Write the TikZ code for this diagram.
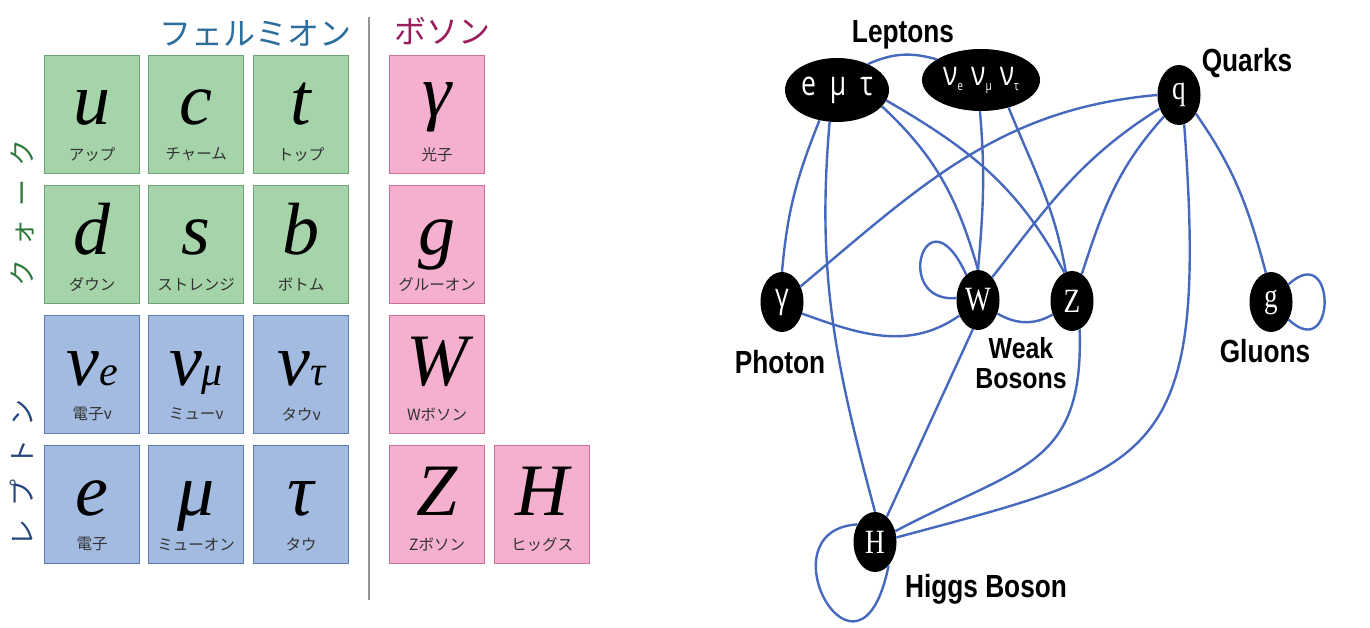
\documentclass[tikz,border=0pt]{standalone}
\usepackage{fontspec}
\setmainfont{Liberation Serif}
\newfontfamily\jpfont{Noto Sans CJK JP}
\newfontfamily\lblfont[FakeStretch=0.82]{Liberation Sans}
\newfontfamily\wbfont[FakeStretch=0.86]{Liberation Sans}
\newfontfamily\gsans[FakeStretch=0.78]{Open Sans}
\newfontfamily\gserif[FakeStretch=0.8]{Liberation Serif}
\usetikzlibrary{shapes.geometric}
\definecolor{gfill}{HTML}{A6D4AA}
\definecolor{gline}{HTML}{6FA274}
\definecolor{bfill}{HTML}{A3BBE1}
\definecolor{bline}{HTML}{5F7FB0}
\definecolor{pfill}{HTML}{F4B0CE}
\definecolor{pline}{HTML}{C87098}
\definecolor{ecol}{HTML}{4669BE}
\definecolor{fermc}{HTML}{2C6E9C}
\definecolor{bosc}{HTML}{9A1E5C}
\definecolor{quarkc}{HTML}{2E7A3A}
\definecolor{leptc}{HTML}{24487E}
\definecolor{smallc}{HTML}{333333}
\tikzset{
 cellbox/.style={draw, line width=1.2pt, minimum width=95pt, minimum height=118pt, inner sep=0pt, anchor=north west},
 qcell/.style={cellbox, fill=gfill, draw=gline},
 lcell/.style={cellbox, fill=bfill, draw=bline},
 bcell/.style={cellbox, fill=pfill, draw=pline},
 bigsym/.style={inner sep=0pt, anchor=base, font=\fontsize{74}{74}\selectfont\itshape},
 smalllbl/.style={inner sep=0pt, text=smallc, font=\jpfont\fontsize{15.5}{15.5}\selectfont},
 head/.style={inner sep=0pt, font=\jpfont\fontsize{32}{32}\selectfont},
 vhead/.style={inner sep=0pt, rotate=90, font=\jpfont\fontsize{27}{27}\selectfont},
 gnode/.style={fill=black, text=white, draw=none, inner sep=0pt, ellipse, minimum width=43pt, minimum height=60pt},
 glbl/.style={inner sep=0pt, anchor=base, font=\lblfont\bfseries\fontsize{32}{32}\selectfont},
 edge/.style={draw=ecol, line width=2.4pt},
}
\newcommand{\pcell}[6]{%
  \node[#4] (#1) at (#2,#3) {};
  \node[bigsym] (#1s) at ([yshift=-70pt]#1.north) {#5};
  \node[smalllbl] (#1n) at ([yshift=20pt]#1.south) {#6};}
\newcommand{\subn}[1]{{\fontsize{42}{42}\selectfont #1}}
\newcommand{\gsub}[1]{\raisebox{-5pt}{\fontsize{13}{13}\selectfont #1}}
\begin{document}
\begin{tikzpicture}[x=1pt,y=1pt]
\useasboundingbox (0,0) rectangle (1370,-628);
% ---------- left chart ----------
\node[head, text=fermc] (hf) at (255,-33) {フェルミオン};
\node[head, text=bosc] (hb) at (442,-31) {ボソン};
\node[vhead, text=quarkc] (vq) at (22,-213) {ク\hspace{13pt}ォ\hspace{13pt}ー\hspace{13pt}ク};
\node[vhead, text=leptc] (vl) at (22,-473) {レ\hspace{13pt}プ\hspace{13pt}ト\hspace{13pt}ン};
\coordinate (st) at (369,-17);
\coordinate (sb) at (369,-600);
\draw[line width=1.3pt, draw=gray!85] (st) -- (sb);

\pcell{cu}{44}{-55}{qcell}{u}{アップ}
\pcell{cc}{148}{-55}{qcell}{c}{チャーム}
\pcell{ct}{253}{-55}{qcell}{t}{トップ}
\pcell{cd}{44}{-185}{qcell}{d}{ダウン}
\pcell{cs}{148}{-185}{qcell}{s}{ストレンジ}
\pcell{cb}{253}{-185}{qcell}{b}{ボトム}
\pcell{cne}{44}{-315}{lcell}{ν\subn{e}}{電子ν}
\pcell{cnm}{148}{-315}{lcell}{ν\subn{μ}}{ミューν}
\pcell{cnt}{253}{-315}{lcell}{ν\subn{τ}}{タウν}
\pcell{ce}{44}{-445}{lcell}{e}{電子}
\pcell{cmu}{148}{-445}{lcell}{μ}{ミューオン}
\pcell{ctau}{253}{-445}{lcell}{τ}{タウ}
\pcell{cga}{389}{-55}{bcell}{\raisebox{8pt}{γ}}{光子}
\pcell{cg}{389}{-185}{bcell}{g}{グルーオン}
\pcell{cW}{389}{-315}{bcell}{W}{Wボソン}
\pcell{cZ}{389}{-445}{bcell}{Z}{Zボソン}
\pcell{cH}{494}{-445}{bcell}{H}{ヒッグス}

% ---------- graph ----------
\node[gnode, minimum width=104pt, minimum height=64pt, font=\gsans\fontsize{34}{34}\selectfont] (lep) at (837,-90) {\raisebox{3pt}{e\hspace{14pt}μ\hspace{14pt}τ}};
\node[gnode, minimum width=118pt, minimum height=62pt, font=\gsans\fontsize{34}{34}\selectfont] (neu) at (981,-80) {ν\gsub{e}\hspace{8pt}ν\gsub{μ}\hspace{8pt}ν\gsub{τ}};
\node[gnode, font=\gserif\fontsize{34}{34}\selectfont] (q) at (1179,-95) {q};
\node[gnode, font=\gsans\fontsize{34}{34}\selectfont] (ga) at (782,-302) {γ};
\node[gnode, font=\gserif\fontsize{34}{34}\selectfont] (W) at (978,-300) {W};
\node[gnode, font=\gserif\fontsize{34}{34}\selectfont] (Z) at (1072,-301) {Z};
\node[gnode, font=\gserif\fontsize{34}{34}\selectfont] (g) at (1271,-302) {g};
\node[gnode, font=\gserif\fontsize{34}{34}\selectfont] (H) at (875,-542) {H};

\draw[edge] (lep.40) to[bend left=20] (neu.155);
\draw[edge] (lep.-120) to[out=-112,in=85] (ga.north);
\draw[edge] (lep.-103) to[out=-95,in=105] (H.north);
\draw[edge] (lep.-20) to[out=-43,in=106] (W.north);
\draw[edge] (lep.-12) to[out=-30,in=118] (Z.105);
\draw[edge] (neu.-92) to[out=-85,in=85] (W.north);
\draw[edge] (neu.-45) to[out=-68,in=100] (Z.102);
\draw[edge] (q.180) to[out=185,in=40] (ga.40);
\draw[edge] (q.215) to[out=212,in=52] (W.58);
\draw[edge] (q.235) to[out=228,in=72] (Z.70);
\draw[edge] (q.-80) .. controls +(25,-340) and +(260,70) .. (H.12);
\draw[edge] (q.-48) to[out=-55,in=105] (g.100);
\draw[edge] (g.45) .. controls +(48,45) and +(48,-45) .. (g.-45);
\draw[edge] (W.115) .. controls +(-40,88) and +(-65,-5) .. (W.175);
\draw[edge] (ga.-30) to[out=-20,in=-145] (W.-140);
\draw[edge] (W.-35) to[out=-30,in=-150] (Z.-145);
\draw[edge] (W.-100) -- (H.65);
\draw[edge] (Z.-75) to[out=-88,in=28,looseness=1.3] (H.28);
\draw[edge] (H.135) .. controls +(-97,-6) and +(-29,-144) .. (H.-60);

\node[glbl] (tLep) at (903,-43) {Leptons};
\node[glbl] (tQua) at (1247,-72) {Quarks};
\node[glbl] (tPho) at (780,-373) {Photon};
\node[glbl, anchor=center, align=center, font=\wbfont\bfseries\fontsize{29}{30}\selectfont] (tWB) at (1021,-363) {Weak\\Bosons};
\node[glbl] (tGlu) at (1265,-362) {Gluons};
\node[glbl] (tHig) at (986,-597) {Higgs Boson};
\end{tikzpicture}
\end{document}
